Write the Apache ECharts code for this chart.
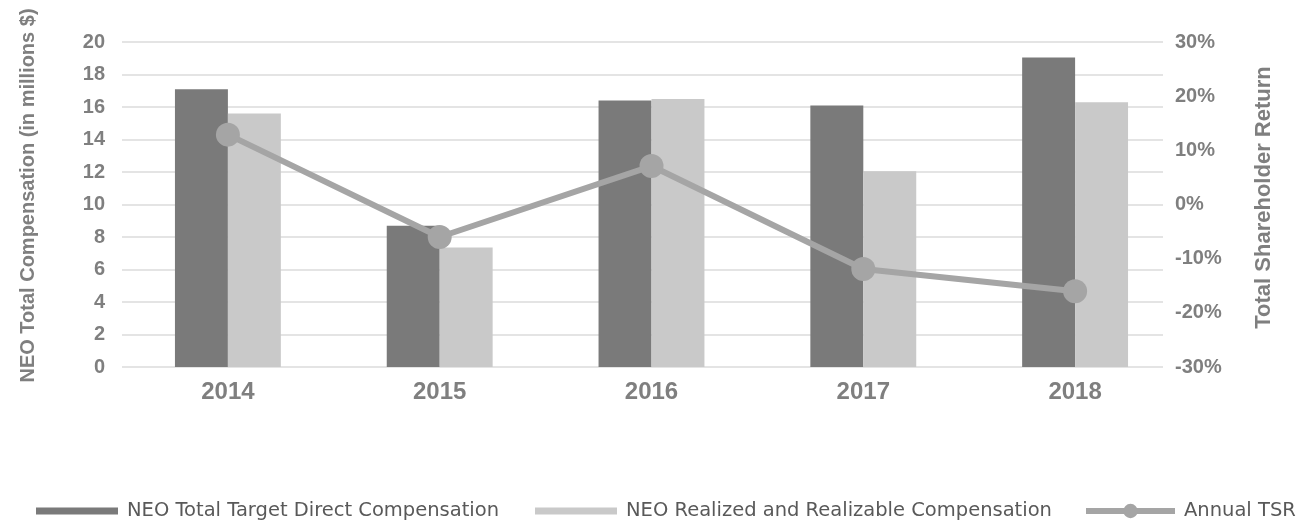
<!DOCTYPE html>
<html>
<head>
<meta charset="utf-8">
<script src="https://cdn.jsdelivr.net/npm/echarts@6/dist/echarts.min.js"></script>
<style>
  html, body { margin: 0; padding: 0; background: #fff; }
  #chart { width: 1305px; height: 525px; }
</style>
</head>
<body>
<div id="chart"></div>
<script>
const years = ["2014", "2015", "2016", "2017", "2018"];
const targetDirect = [17.1, 8.7, 16.4, 16.1, 19.05];
const realized = [15.6, 7.35, 16.5, 12.05, 16.3];
const annualTsr = [12.9, -6.0, 7.1, -11.9, -16.0];

const FONT = "'Liberation Sans', Arial, sans-serif";
const LABEL_GRAY = "#7f7f7f";

const chart = echarts.init(document.getElementById("chart"), null, { renderer: "canvas" });

function legendAt(name, left, extra) {
  return Object.assign({
    data: [name],
    left,
    top: 501,
    padding: 0,
    itemWidth: 82,
    itemHeight: 7,
    icon: "rect",
    selectedMode: false,
    textStyle: {
      color: "#595959",
      fontSize: 19.5,
      fontFamily: "'DejaVu Sans', sans-serif",
      padding: [0, 0, 0, 4]
    }
  }, extra || {});
}

chart.setOption({
  animation: false,
  backgroundColor: "#fff",
  textStyle: { fontFamily: FONT },
  legend: [
    legendAt("NEO Total Target Direct Compensation", 36),
    legendAt("NEO Realized and Realizable Compensation", 535),
    legendAt("Annual TSR", 1083, {
      icon: null,
      itemWidth: 89,
      itemHeight: 18,
      lineStyle: { width: 6 }
    })
  ],
  grid: [
    // data grid, wider so the category bands line up with the picture
    { left: 122, right: 124, top: 42, bottom: 158 },
    // grid that carries the visible gridlines and value labels
    { left: 122, right: 142, top: 42, bottom: 158 }
  ],
  xAxis: [
    {
      type: "category",
      gridIndex: 0,
      data: years,
      axisLine: { show: false },
      axisTick: { show: false },
      axisLabel: {
        color: LABEL_GRAY,
        fontSize: 24,
        fontWeight: "bold",
        fontFamily: FONT,
        margin: 13
      }
    },
    { type: "category", gridIndex: 1, data: years, show: false }
  ],
  yAxis: [
    { type: "value", gridIndex: 0, min: 0, max: 20, show: false },
    { type: "value", gridIndex: 0, min: -30, max: 30, show: false },
    {
      type: "value",
      gridIndex: 1,
      position: "left",
      min: 0,
      max: 20,
      interval: 2,
      name: "NEO Total Compensation (in millions $)",
      nameLocation: "middle",
      nameGap: 84,
      nameTextStyle: {
        color: LABEL_GRAY,
        fontSize: 20,
        fontWeight: "bold",
        fontFamily: FONT,
        padding: [0, 0, 0, 18]
      },
      axisLine: { show: false },
      axisTick: { show: false },
      axisLabel: { color: LABEL_GRAY, fontSize: 20, fontWeight: "bold", fontFamily: FONT, margin: 17 },
      splitLine: { lineStyle: { color: "#e4e4e4", width: 2 } }
    },
    {
      type: "value",
      gridIndex: 1,
      position: "right",
      min: -30,
      max: 30,
      interval: 10,
      name: "Total Shareholder Return",
      nameLocation: "middle",
      nameGap: 90,
      nameTextStyle: {
        color: LABEL_GRAY,
        fontSize: 22,
        fontWeight: "bold",
        fontFamily: FONT,
        padding: [0, 0, 0, 14]
      },
      axisLine: { show: false },
      axisTick: { show: false },
      axisLabel: {
        color: LABEL_GRAY,
        fontSize: 20,
        fontWeight: "bold",
        fontFamily: FONT,
        margin: 12,
        formatter: "{value}%"
      },
      splitLine: { show: false }
    }
  ],
  series: [
    {
      name: "NEO Total Target Direct Compensation",
      type: "bar",
      xAxisIndex: 0,
      yAxisIndex: 0,
      data: targetDirect,
      barGap: "0%",
      barCategoryGap: "50%",
      itemStyle: { color: "#7a7a7a" }
    },
    {
      name: "NEO Realized and Realizable Compensation",
      type: "bar",
      xAxisIndex: 0,
      yAxisIndex: 0,
      data: realized,
      barGap: "0%",
      barCategoryGap: "50%",
      itemStyle: { color: "#c9c9c9" }
    },
    {
      name: "Annual TSR",
      type: "line",
      xAxisIndex: 0,
      yAxisIndex: 1,
      data: annualTsr,
      z: 5,
      symbol: "circle",
      symbolSize: 24,
      lineStyle: { color: "#a5a5a5", width: 6 },
      itemStyle: { color: "#a5a5a5" }
    }
  ]
});
</script>
</body>
</html>
